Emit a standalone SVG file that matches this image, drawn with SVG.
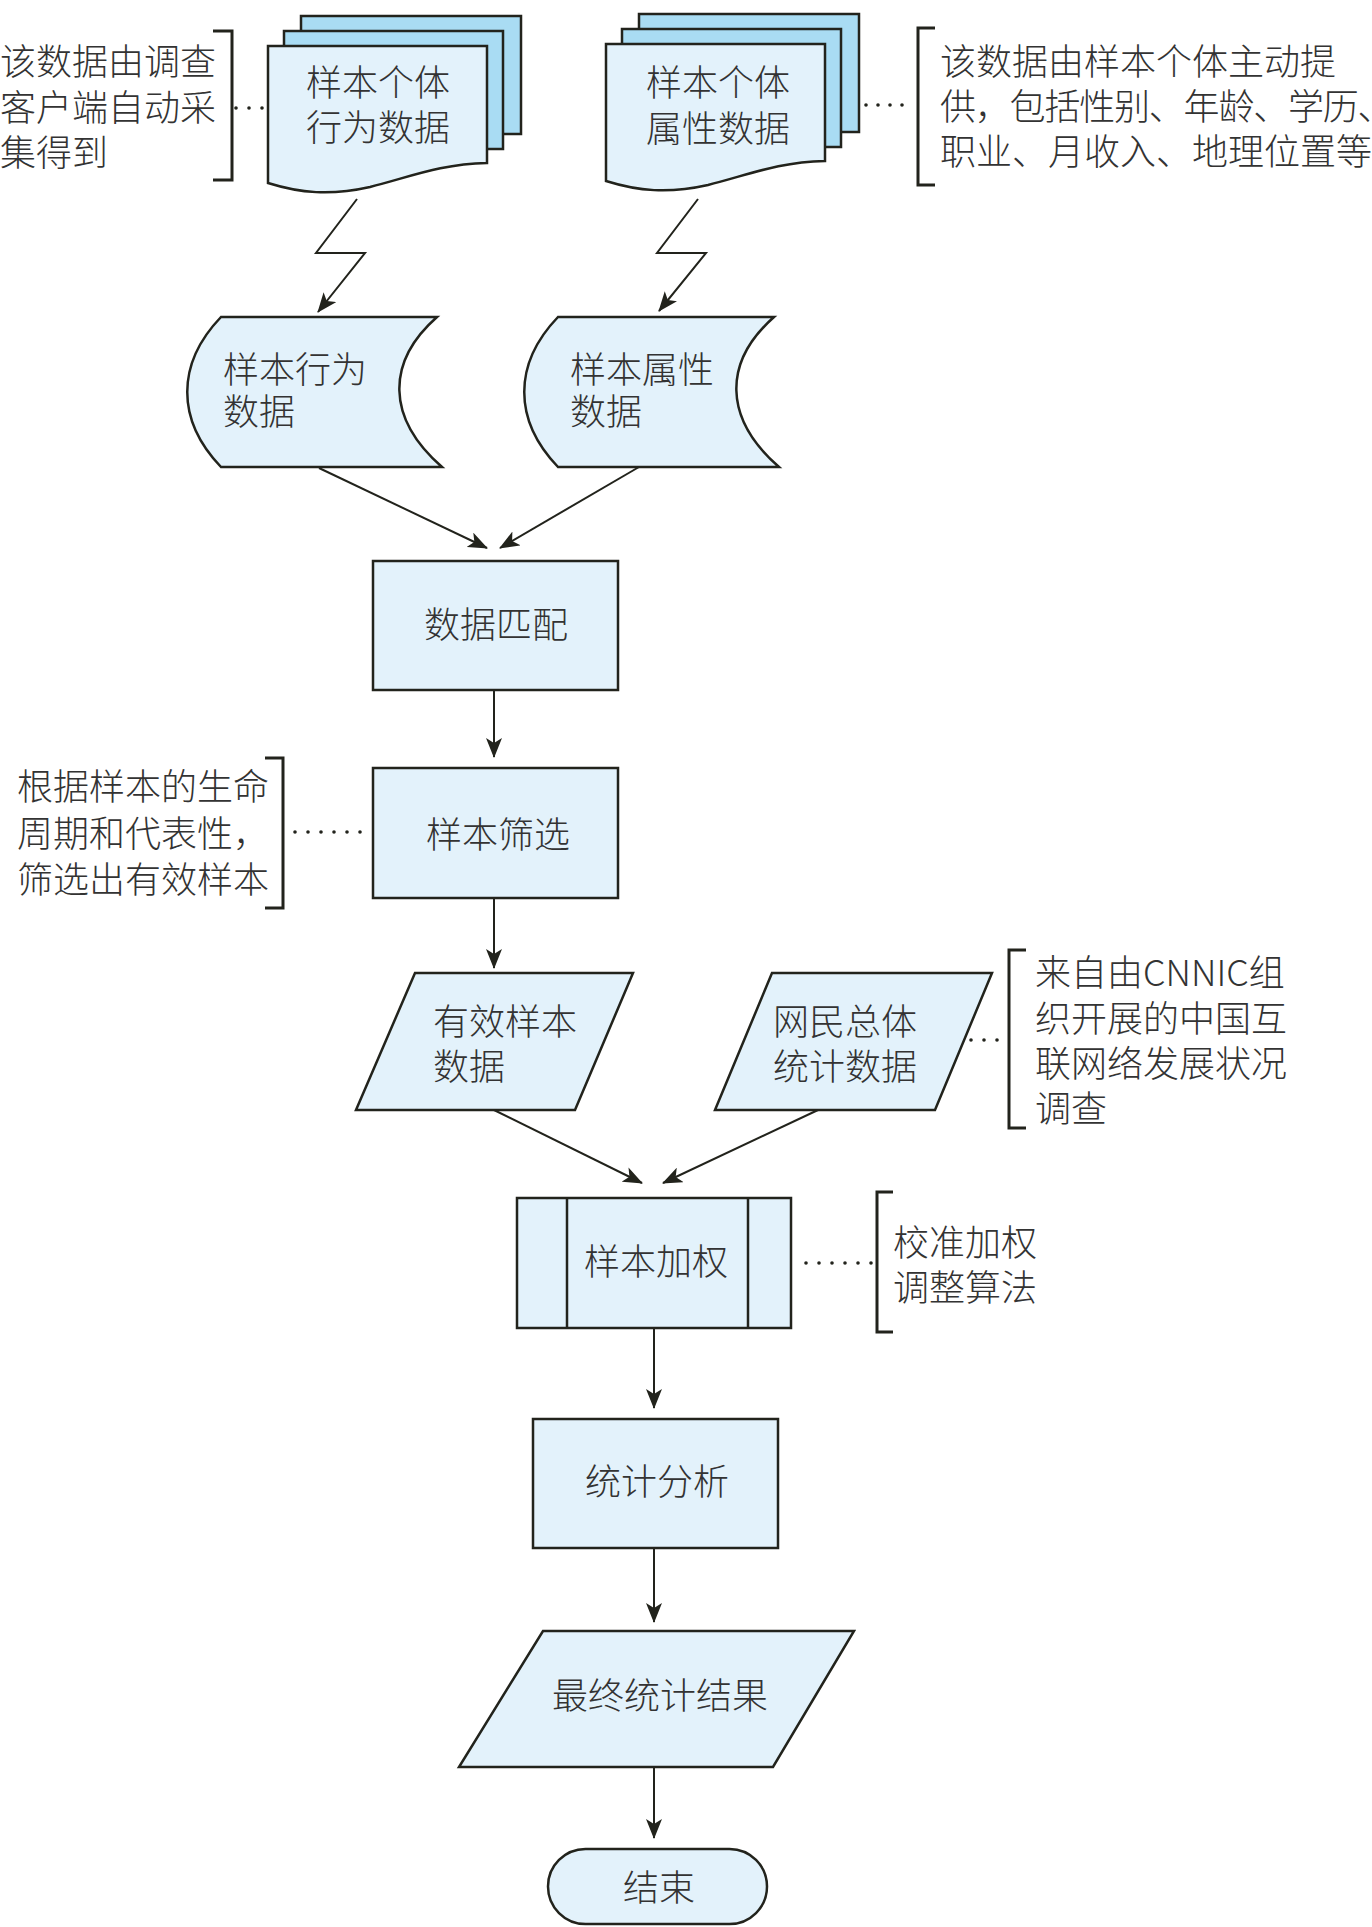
<svg xmlns="http://www.w3.org/2000/svg" width="1372" height="1927" viewBox="0 0 1372 1927">
<style>
  .shape { fill: #e3f2fb; stroke: #22231c; stroke-width: 2.5; }
  .back { fill: #a9dcf3; stroke: #22231c; stroke-width: 2.5; }
  .line { fill: none; stroke: #22231c; stroke-width: 2; }
  .brk { fill: none; stroke: #22231c; stroke-width: 3; }
  .dot { fill: #22231c; }
  text { font-family: "Noto Sans CJK SC", "Noto Sans", sans-serif; font-size: 36px; fill: #333333; font-weight: 300; }
  .c { text-anchor: middle; }
</style>
<defs>
  <marker id="ah" viewBox="0 0 20 16" refX="19" refY="8" markerWidth="20" markerHeight="16" markerUnits="userSpaceOnUse" orient="auto">
    <path d="M20,8 L0,0 L5,8 L0,16 Z" fill="#22231c"/>
  </marker>
  <g id="docstack">
    <rect class="back" x="301" y="16" width="220" height="118"/>
    <rect class="back" x="284" y="31" width="219" height="118"/>
    <path class="shape" d="M268,46 H487 V163 C440,164 410,177 370,187 C330,196 300,193 268,183 Z"/>
  </g>
  <path id="stored" class="shape" d="M221,317 H437 C386,362 386,418 442,467 H221 C176,420 176,364 221,317 Z"/>
</defs>

<!-- Annotations -->
<g id="note-behavior">
  <text x="0" y="75">该数据由调查</text>
  <text x="0" y="121">客户端自动采</text>
  <text x="0" y="166">集得到</text>
  <path class="brk" d="M213,31 H232 V180 H213"/>
  <circle class="dot" cx="236" cy="108" r="1.8"/>
  <circle class="dot" cx="249" cy="108" r="1.8"/>
  <circle class="dot" cx="262" cy="108" r="1.8"/>
</g>
<g id="note-attribute">
  <text x="940" y="75">该数据由样本个体主动提</text>
  <text x="940" y="120" letter-spacing="-1.2">供，包括性别、年龄、学历、</text>
  <text x="940" y="165">职业、月收入、地理位置等</text>
  <path class="brk" d="M935,28 H918 V185 H935"/>
  <circle class="dot" cx="866" cy="105" r="1.8"/>
  <circle class="dot" cx="878" cy="105" r="1.8"/>
  <circle class="dot" cx="890" cy="105" r="1.8"/>
  <circle class="dot" cx="902" cy="105" r="1.8"/>
</g>
<g id="note-filter">
  <text x="17" y="800">根据样本的生命</text>
  <text x="17" y="847">周期和代表性，</text>
  <text x="17" y="893">筛选出有效样本</text>
  <path class="brk" d="M265,758 H283 V908 H265"/>
  <circle class="dot" cx="295" cy="832" r="1.8"/>
  <circle class="dot" cx="308" cy="832" r="1.8"/>
  <circle class="dot" cx="321" cy="832" r="1.8"/>
  <circle class="dot" cx="334" cy="832" r="1.8"/>
  <circle class="dot" cx="347" cy="832" r="1.8"/>
  <circle class="dot" cx="360" cy="832" r="1.8"/>
</g>
<g id="note-population">
  <text x="1035" y="986">来自由CNNIC组</text>
  <text x="1035" y="1032">织开展的中国互</text>
  <text x="1035" y="1077">联网络发展状况</text>
  <text x="1035" y="1122">调查</text>
  <path class="brk" d="M1026,950 H1009 V1128 H1026"/>
  <circle class="dot" cx="971" cy="1040" r="1.8"/>
  <circle class="dot" cx="984" cy="1040" r="1.8"/>
  <circle class="dot" cx="997" cy="1040" r="1.8"/>
</g>
<g id="note-weight">
  <text x="893" y="1256">校准加权</text>
  <text x="893" y="1301">调整算法</text>
  <path class="brk" d="M893,1192 H877 V1332 H893"/>
  <circle class="dot" cx="806" cy="1263" r="1.8"/>
  <circle class="dot" cx="819" cy="1263" r="1.8"/>
  <circle class="dot" cx="832" cy="1263" r="1.8"/>
  <circle class="dot" cx="845" cy="1263" r="1.8"/>
  <circle class="dot" cx="858" cy="1263" r="1.8"/>
  <circle class="dot" cx="871" cy="1263" r="1.8"/>
</g>

<!-- Nodes -->
<g id="n-behavior-doc">
  <use href="#docstack"/>
  <text class="c" x="378" y="96">样本个体</text>
  <text class="c" x="378" y="141">行为数据</text>
</g>
<g id="n-attribute-doc">
  <use href="#docstack" transform="translate(338,-2)"/>
  <text class="c" x="718" y="96">样本个体</text>
  <text class="c" x="718" y="142">属性数据</text>
</g>
<g id="n-behavior-data">
  <use href="#stored"/>
  <text x="223" y="383">样本行为</text>
  <text x="223" y="425">数据</text>
</g>
<g id="n-attribute-data">
  <use href="#stored" transform="translate(337,0)"/>
  <text x="570" y="383">样本属性</text>
  <text x="570" y="425">数据</text>
</g>
<g id="n-match">
  <rect class="shape" x="373" y="561" width="245" height="129"/>
  <text class="c" x="496" y="638">数据匹配</text>
</g>
<g id="n-filter">
  <rect class="shape" x="373" y="768" width="245" height="130"/>
  <text class="c" x="498" y="848">样本筛选</text>
</g>
<g id="n-valid">
  <polygon class="shape" points="415,973 633,973 575,1110 356,1110"/>
  <text x="433" y="1035">有效样本</text>
  <text x="433" y="1080">数据</text>
</g>
<g id="n-population">
  <polygon class="shape" points="772,973 992,973 935,1110 715,1110"/>
  <text x="773" y="1035">网民总体</text>
  <text x="773" y="1080">统计数据</text>
</g>
<g id="n-weight">
  <rect class="shape" x="517" y="1198" width="274" height="130"/>
  <line class="line" x1="567" y1="1198" x2="567" y2="1328" style="stroke-width:2.5"/>
  <line class="line" x1="748" y1="1198" x2="748" y2="1328" style="stroke-width:2.5"/>
  <text class="c" x="656" y="1275">样本加权</text>
</g>
<g id="n-analysis">
  <rect class="shape" x="533" y="1419" width="245" height="129"/>
  <text class="c" x="657" y="1495">统计分析</text>
</g>
<g id="n-result">
  <polygon class="shape" points="543,1631 854,1631 773,1767 459,1767"/>
  <text class="c" x="660" y="1709">最终统计结果</text>
</g>
<g id="n-end">
  <rect class="shape" x="548" y="1849" width="219" height="75" rx="37.5" ry="37.5"/>
  <text class="c" x="659" y="1901">结束</text>
</g>

<!-- Connectors -->
<g id="connectors">
  <polyline class="line" points="357,199 316,253 365,253 318,312" marker-end="url(#ah)"/>
  <polyline class="line" points="698,199 657,253 706,253 659,311" marker-end="url(#ah)"/>
  <line class="line" x1="319" y1="468" x2="487" y2="548" marker-end="url(#ah)"/>
  <line class="line" x1="639" y1="467" x2="500" y2="548" marker-end="url(#ah)"/>
  <line class="line" x1="494" y1="690" x2="494" y2="757" marker-end="url(#ah)"/>
  <line class="line" x1="494" y1="898" x2="494" y2="968" marker-end="url(#ah)"/>
  <line class="line" x1="494" y1="1110" x2="642" y2="1183" marker-end="url(#ah)"/>
  <line class="line" x1="818" y1="1110" x2="663" y2="1183" marker-end="url(#ah)"/>
  <line class="line" x1="654" y1="1328" x2="654" y2="1408" marker-end="url(#ah)"/>
  <line class="line" x1="654" y1="1548" x2="654" y2="1622" marker-end="url(#ah)"/>
  <line class="line" x1="654" y1="1767" x2="654" y2="1838" marker-end="url(#ah)"/>
</g>
</svg>
